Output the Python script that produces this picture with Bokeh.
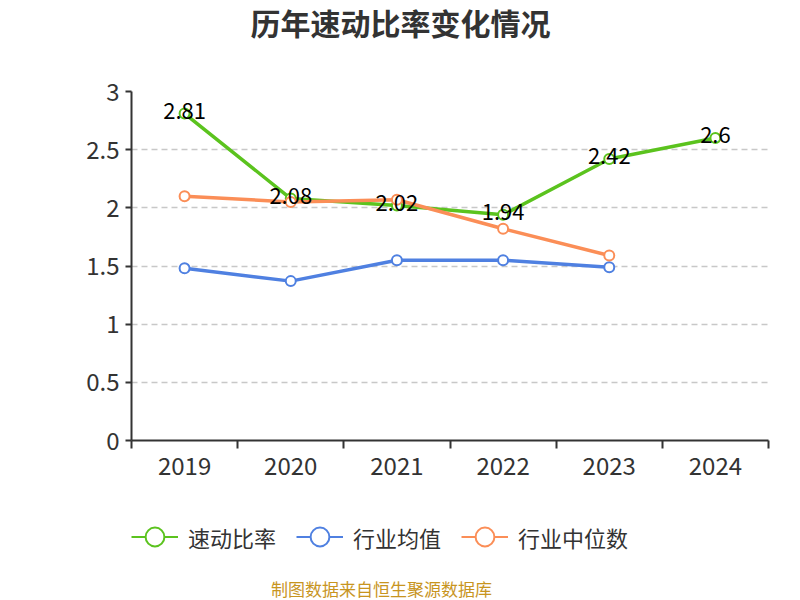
from bokeh.plotting import figure
from bokeh.layouts import column
from bokeh.models import (Range1d, FixedTicker, Legend, LegendItem, Label,
                          NumeralTickFormatter, ColumnDataSource)
from bokeh.core.properties import value
from bokeh.embed import file_html
from bokeh.resources import INLINE

years = ["2019", "2020", "2021", "2022", "2023", "2024"]
quick_ratio = [2.81, 2.08, 2.02, 1.94, 2.42, 2.60]
industry_avg = [1.48, 1.37, 1.55, 1.55, 1.49]
industry_median = [2.10, 2.05, 2.07, 1.82, 1.59]
y_ticks = [0, 0.5, 1, 1.5, 2, 2.5, 3]

title_text = "历年速动比率变化情况"
series_names = ["速动比率", "行业均值", "行业中位数"]
source_text = "制图数据来自恒生聚源数据库"

GREEN = "#5bc31e"
BLUE = "#4f80e1"
ORANGE = "#fb8e57"
FONT = "Noto Sans CJK SC"

x_pos = [i + 0.5 for i in range(len(years))]


def blank(height):
    f = figure(width=800, height=height, output_backend="svg",
               toolbar_location=None, x_axis_location=None,
               y_axis_location=None, x_range=Range1d(-10, -9),
               y_range=Range1d(-10, -9), min_border=0)
    f.grid.visible = False
    f.outline_line_color = None
    return f


# ---- header with title
header = blank(46)
header.add_layout(Label(x=400, y=21, x_units="canvas", y_units="canvas",
                        text=title_text, text_align="center",
                        text_baseline="middle", text_font=FONT,
                        text_font_size="30px", text_font_style="bold",
                        text_color="#333333"))

# ---- main chart
p = figure(width=800, height=454, output_backend="svg", toolbar_location=None,
           x_range=Range1d(0, len(years)), y_range=Range1d(0, 3),
           min_border_left=131, min_border_right=32, min_border_top=45,
           min_border_bottom=60)
p.outline_line_color = None

xa = p.xaxis[0]
xa.ticker = FixedTicker(ticks=x_pos, minor_ticks=list(range(len(years) + 1)))
xa.major_label_overrides = {x: y for x, y in zip(x_pos, years)}
xa.major_tick_out = 0
xa.major_tick_in = 0
xa.minor_tick_out = 8
xa.minor_tick_in = 0
xa.minor_tick_line_color = "#333333"
xa.minor_tick_line_width = 2
xa.axis_line_color = "#333333"
xa.axis_line_width = 2
xa.major_label_text_font = FONT
xa.major_label_text_font_size = "24px"
xa.major_label_text_color = "#333333"
xa.major_label_standoff = 8

ya = p.yaxis[0]
ya.ticker = FixedTicker(ticks=y_ticks)
ya.formatter = NumeralTickFormatter(format="0.[0]")
ya.major_tick_out = 6
ya.major_tick_in = 0
ya.minor_tick_out = 0
ya.minor_tick_in = 0
ya.axis_line_color = "#333333"
ya.axis_line_width = 2
ya.major_tick_line_color = "#333333"
ya.major_tick_line_width = 2
ya.major_label_text_font = FONT
ya.major_label_text_font_size = "24px"
ya.major_label_text_color = "#333333"
ya.major_label_standoff = 6

p.xgrid.grid_line_color = None
p.ygrid.ticker = FixedTicker(ticks=y_ticks[1:])
p.ygrid.grid_line_color = "#c8c8c8"
p.ygrid.grid_line_dash = "6 4"
p.ygrid.grid_line_width = 1.5

series = [(quick_ratio, GREEN), (industry_avg, BLUE), (industry_median, ORANGE)]
for vals, col in series:
    src = ColumnDataSource(dict(x=x_pos[:len(vals)], y=vals))
    p.line("x", "y", source=src, line_color=col, line_width=3.5)
    p.scatter("x", "y", source=src, size=10, fill_color="white",
              line_color=col, line_width=2)

lab_src = ColumnDataSource(dict(x=x_pos, y=quick_ratio,
                                t=[f"{v:g}" for v in quick_ratio]))
p.text("x", "y", text="t", source=lab_src, text_align="center",
       text_baseline="middle", y_offset=-3, text_font=value(FONT),
       text_font_size="22px", text_color="black")

# ---- footer with legend and source
footer = blank(100)
items = []
for name, (vals, col) in zip(series_names, series):
    src = ColumnDataSource(dict(x=x_pos[:len(vals)], y=vals))
    r1 = footer.line("x", "y", source=src, line_color=col, line_width=2)
    r2 = footer.scatter("x", "y", source=src, size=10, fill_color="white",
                        line_color=col, line_width=2)
    items.append(LegendItem(label=name, renderers=[r1, r2]))

legend = Legend(items=items, orientation="horizontal", location=(0, 40),
                glyph_width=47, glyph_height=47, spacing=20, label_standoff=10,
                label_text_font=FONT, label_text_font_size="22px",
                label_text_color="#333333", border_line_color=None,
                background_fill_alpha=0, padding=0, margin=0)
footer.add_layout(legend, "center")
footer.add_layout(Label(x=381, y=88, x_units="canvas", y_units="canvas",
                        text=source_text, text_align="center",
                        text_baseline="middle", text_font=FONT,
                        text_font_size="17px", text_color="#c8951f"))

layout = column(header, p, footer, spacing=0)
open("out.html", "w").write(file_html(layout, INLINE))
